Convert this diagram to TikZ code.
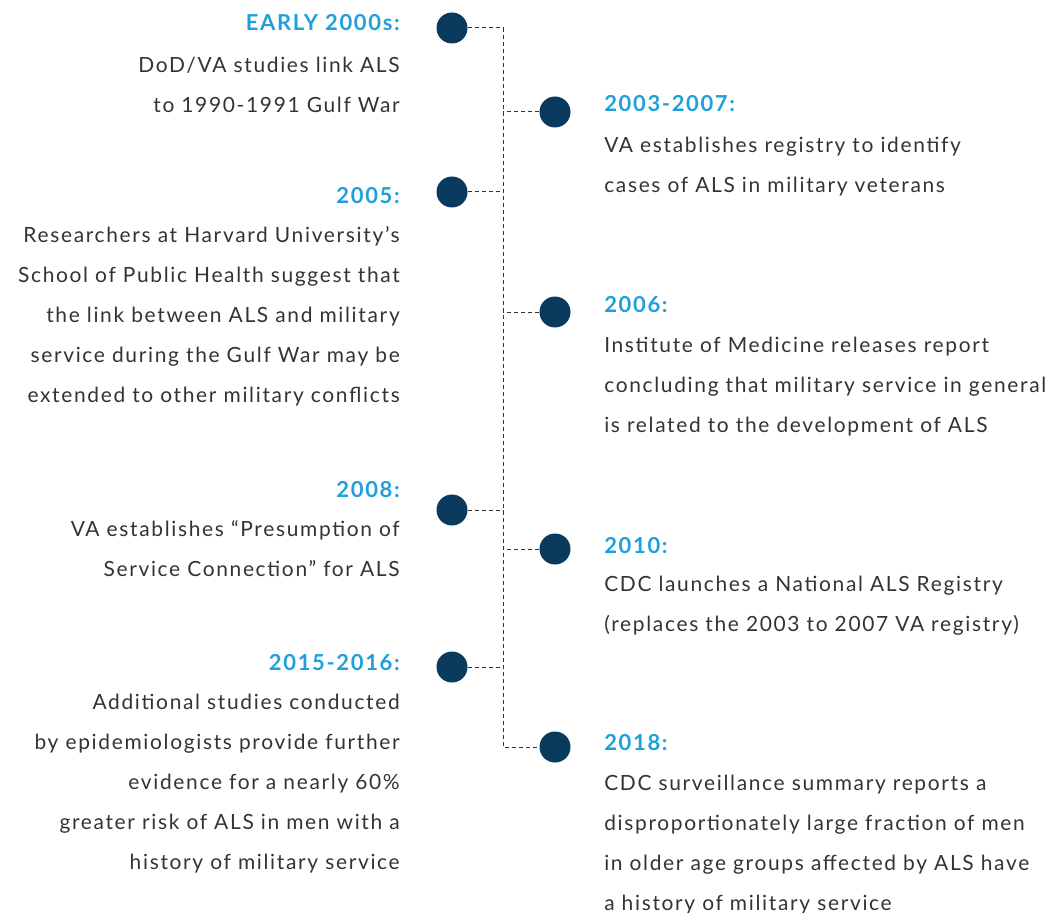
\documentclass[tikz,border=0pt]{standalone}
\usepackage{fontspec}
\setmainfont{Lato}
\newfontfamily\bodyfont[LetterSpace=8]{Lato}
\newfontfamily\headfont[LetterSpace=7.5]{Lato Bold}
\definecolor{blueh}{HTML}{1FA0DC}
\definecolor{navy}{HTML}{0A3A5E}
\definecolor{bodyc}{HTML}{333333}
\begin{document}
\begin{tikzpicture}[x=0.75pt,y=-0.75pt,
 dot/.style={circle,fill=navy,minimum size=23.25pt,inner sep=0},
 head/.style={font=\headfont\fontsize{16.5}{30}\selectfont,text=blueh,inner sep=0},
 txt/.style={font=\bodyfont\fontsize{15.7}{30}\selectfont,text=bodyc,inner sep=0},
 link/.style={dash pattern=on 3pt off 2.25pt,line width=0.75pt,draw=black!80}]
\useasboundingbox (0,0) rectangle (1061,913);
\node[dot] (d1) at (452,28) {};
\node[dot] (d2) at (555,112) {};
\node[dot] (d3) at (452,192) {};
\node[dot] (d4) at (555,312) {};
\node[dot] (d5) at (452,510) {};
\node[dot] (d6) at (555,549) {};
\node[dot] (d7) at (452,667) {};
\node[dot] (d8) at (555,747) {};
\coordinate (top) at (503,28);
\coordinate (bot) at (503,747);
\draw[link] (d1.east) -- (top) -- (bot) -- (d8.west);
\foreach \n in {d2,d4,d6}{\draw[link] (\n.west) -- (\n.west -| top);}
\foreach \n in {d3,d5,d7}{\draw[link] (\n.east) -- (\n.east -| top);}
% left
\node[head,anchor=base east] (h1) at (400,31) {EARLY 2000s:};
\node[txt,anchor=base east] (b1) at (400,73) {\begin{tabular}[t]{@{}r@{}}DoD/VA studies link ALS\\to 1990-1991 Gulf War\end{tabular}};
\node[head,anchor=base east] (h3) at (400,204) {2005:};
\node[txt,anchor=base east] (b3) at (400,243) {\begin{tabular}[t]{@{}r@{}}Researchers at Harvard University’s\\School of Public Health suggest that\\the link between ALS and military\\service during the Gulf War may be\\extended to other military conflicts\end{tabular}};
\node[head,anchor=base east] (h5) at (400,497) {2008:};
\node[txt,anchor=base east] (b5) at (400,536) {\begin{tabular}[t]{@{}r@{}}VA establishes “Presumption of\\Service Connection” for ALS\end{tabular}};
\node[head,anchor=base east] (h7) at (400,670) {2015-2016:};
\node[txt,anchor=base east] (b7) at (400,709) {\begin{tabular}[t]{@{}r@{}}Additional studies conducted\\by epidemiologists provide further\\evidence for a nearly 60\%\\greater risk of ALS in men with a\\history of military service\end{tabular}};
% right
\node[head,anchor=base west] (h2) at (604,112) {2003-2007:};
\node[txt,anchor=base west] (b2) at (604,153) {\begin{tabular}[t]{@{}l@{}}VA establishes registry to identify\\cases of ALS in military veterans\end{tabular}};
\node[head,anchor=base west] (h4) at (604,312) {2006:};
\node[txt,anchor=base west] (b4) at (604,352) {\begin{tabular}[t]{@{}l@{}}Institute of Medicine releases report\\concluding that military service in general\\is related to the development of ALS\end{tabular}};
\node[head,anchor=base west] (h6) at (604,553) {2010:};
\node[txt,anchor=base west] (b6) at (604,591) {\begin{tabular}[t]{@{}l@{}}CDC launches a National ALS Registry\\(replaces the 2003 to 2007 VA registry)\end{tabular}};
\node[head,anchor=base west] (h8) at (604,750) {2018:};
\node[txt,anchor=base west] (b8) at (604,790) {\begin{tabular}[t]{@{}l@{}}CDC surveillance summary reports a\\disproportionately large fraction of men\\in older age groups affected by ALS have\\a history of military service\end{tabular}};
\end{tikzpicture}
\end{document}
